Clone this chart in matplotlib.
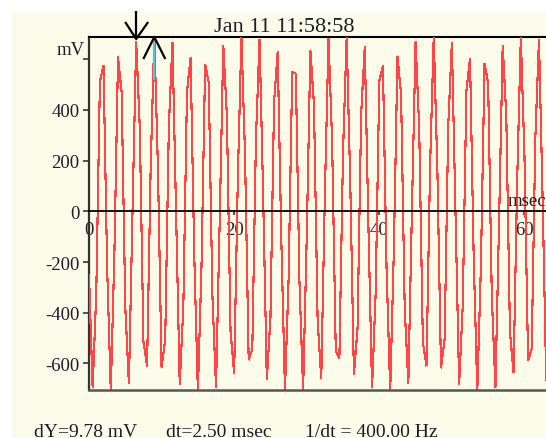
import numpy as np
import matplotlib
matplotlib.use("Agg")
import matplotlib.pyplot as plt
from matplotlib.lines import Line2D
from matplotlib.patches import Rectangle
from matplotlib.transforms import IdentityTransform

# ---------------- data ----------------
sample_interval_ms = 0.5
voltage_mv = [
    -250, -696, -324, 511, 577, -223, -709, -163, 609, 467,
    -379, -681, 7, 670, 329, -512, -612, 177, 690, 170,
    -616, -507, 335, 668, 1, -683, -373, 473, 606, -170,
    -710, -217, 581, 507, -330, -695, -48, 655, 377, -472,
    -639, 123, 688, 223, -586, -545, 285, 680, 56, -665,
    -420, 431, 630, -115, -705, -269, 550, 543, -280, -704,
    -104, 635, 422, -429, -661, 67, 682, 275, -552, -579,
    234, 687, 111, -643, -463, 386, 651, -60, -697, -320,
    514, 575, -228, -709, -159, 611, 464, -383, -679, 12,
    671, 325, -516, -610, 181, 690, 166, -618, -504, 339,
    667, -4, -684, -369, 476, 604, -174, -710, -213, 584,
    504, -334, -694, -44, 656, 373, -475, -637, 127, 688,
    219, -588, -542, 290, 679, 52, -667, -416, 434,
]
x_ticks = [0, 20, 40, 60]
x_tick_labels = ["0", "20", "40", "60"]
y_ticks = [-600, -400, -200, 0, 200, 400, 600]
y_tick_labels = ["-600", "-400", "-200", "0", "200", "400", ""]
x_unit = "msec"
y_unit = "mV"
title_text = "Jan 11 11:58:58"
cursor_times_ms = [6.5, 9.0]
readout = ["dY=9.78 mV", "dt=2.50 msec", "1/dt = 400.00 Hz"]
x_range = (0, 66)
y_range = (-705, 688)

# ---------------- style ----------------
W, H = 546, 439
cream = "#fbfbea"
txt = "#1e1e2a"
font = ["Liberation Serif", "DejaVu Serif"]
plt.rcParams["font.family"] = font

fig = plt.figure(figsize=(W / 100, H / 100), dpi=100, facecolor="white")
fig.patches.append(Rectangle((12 / W, 0), 1 - 12 / W, 1 - 12 / H,
                             transform=fig.transFigure, facecolor=cream,
                             edgecolor="none", zorder=-10))

ax = fig.add_axes([89 / W, (H - 391) / H, (568 - 89) / W, (391 - 38) / H])
ax.set_facecolor(cream)
ax.set_xlim(*x_range)
ax.set_ylim(*y_range)

times = np.arange(len(voltage_mv)) * sample_interval_ms
ax.plot(times, voltage_mv, color="#ff4545", lw=0.8, antialiased=False,
        solid_joinstyle="miter", zorder=3)

# spines
ax.spines["right"].set_visible(False)
ax.spines["top"].set_color("black")
ax.spines["top"].set_linewidth(1.5)
ax.spines["left"].set_color("#333333")
ax.spines["left"].set_linewidth(1.6)
ax.spines["bottom"].set_position(("data", 0))
ax.spines["bottom"].set_color("black")
ax.spines["bottom"].set_linewidth(1.3)
ax.spines["bottom"].set_zorder(4)
ax.plot([0, 1], [0, 0], transform=ax.transAxes, color="#555555", lw=1.8,
        clip_on=False, zorder=5)

ax.set_xticks(x_ticks)
ax.set_xticklabels(x_tick_labels)
ax.set_yticks(y_ticks)
ax.set_yticklabels(y_tick_labels)
ax.tick_params(axis="y", direction="out", length=4, width=1.2, color="#333333",
               labelsize=13.5, labelcolor=txt, pad=3)
ax.tick_params(axis="x", direction="out", length=3, width=1.2, color="#333333",
               labelsize=13.5, labelcolor=txt, pad=4)

# unit labels
ax.annotate(y_unit, xy=(0, 600), xycoords=("axes fraction", "data"),
            xytext=(-3, 1), textcoords="offset points", ha="right", va="bottom",
            fontsize=13.5, color=txt, annotation_clip=False)
ax.annotate(x_unit, xy=(x_ticks[-1], 0), xycoords="data",
            xytext=(-12, 2), textcoords="offset points", ha="left", va="bottom",
            fontsize=13.5, color=txt, annotation_clip=False)

# title and readout
fig.text(284 / W, 1 - 32 / H, title_text, ha="center", va="baseline",
         fontsize=16, color=txt)
for xpos, s in zip([34, 166, 305], readout):
    fig.text(xpos / W, 1 - 424 / H, s, ha="left", va="top", fontsize=14,
             color=txt)

# cursors
fig.canvas.draw()
top_px = ax.transAxes.transform((0, 1))[1]
idt = IdentityTransform()
c1 = ax.transData.transform((cursor_times_ms[0], 0))[0]
c2 = ax.transData.transform((cursor_times_ms[1], 0))[0]
def seg(xs, ys, color="black", lw=1.6):
    fig.add_artist(Line2D(xs, ys, transform=idt, color=color, lw=lw,
                          solid_capstyle="butt", zorder=10))
seg([c1, c1], [top_px + 26, top_px - 2])
seg([c1 - 11, c1, c1 + 12], [top_px + 15, top_px - 2, top_px + 15])
seg([c2, c2], [top_px - 4, top_px - 43], color="#58c4d4", lw=1.6)
seg([c2 - 11, c2, c2 + 11], [top_px - 22, top_px, top_px - 22])

fig.savefig("out.png", dpi=100, facecolor="white")
